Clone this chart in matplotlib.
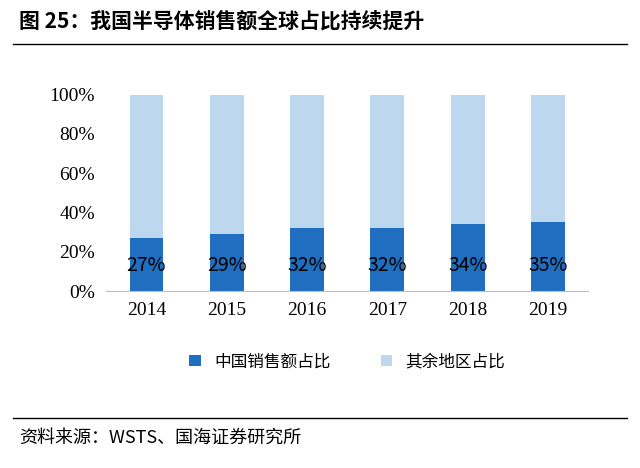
import numpy as np
import matplotlib.pyplot as plt

plt.rcParams['font.family'] = ['Noto Sans CJK SC', 'DejaVu Sans']

years = ['2014', '2015', '2016', '2017', '2018', '2019']
china = [27, 29, 32, 32, 34, 35]
other = [100 - v for v in china]

fig = plt.figure(figsize=(6.4, 4.68), dpi=100)
ax = fig.add_axes([0.166, 0.378, 0.753, 0.42])

x = np.arange(len(years))
ax.bar(x, china, width=0.42, color='#1F6EBF', label='中国销售额占比')
ax.bar(x, other, width=0.42, bottom=china, color='#BDD7EE', label='其余地区占比')
for xi, v in zip(x, china):
    ax.text(xi, 13, f'{v}%', ha='center', va='center', fontsize=14, color='black')

ax.set_ylim(0, 100)
ax.set_xlim(-0.5, len(years) - 0.5)
ax.set_yticks(range(0, 101, 20))
ax.set_yticklabels([f'{v}%' for v in range(0, 101, 20)], family='Liberation Serif', fontsize=14)
ax.set_xticks(x)
ax.set_xticklabels(years, family='Liberation Serif', fontsize=14)
for s in ['top', 'right', 'left']:
    ax.spines[s].set_visible(False)
ax.spines['bottom'].set_color('#BFBFBF')
ax.tick_params(length=0, pad=8)

ax.legend(loc='center', bbox_to_anchor=(0.5, -0.36), ncol=2, frameon=False,
          fontsize=12, handlelength=0.7, handleheight=0.7, columnspacing=3)

fig.text(0.03, 0.955, '图 25：我国半导体销售额全球占比持续提升', fontsize=15, fontweight='bold', va='center')
fig.add_artist(plt.Line2D([0.02, 0.98], [0.905, 0.905], color='black', lw=1))
fig.add_artist(plt.Line2D([0.02, 0.98], [0.107, 0.107], color='black', lw=1))
fig.text(0.03, 0.065, '资料来源：WSTS、国海证券研究所', fontsize=13, va='center')

fig.savefig('out.png', dpi=100)
